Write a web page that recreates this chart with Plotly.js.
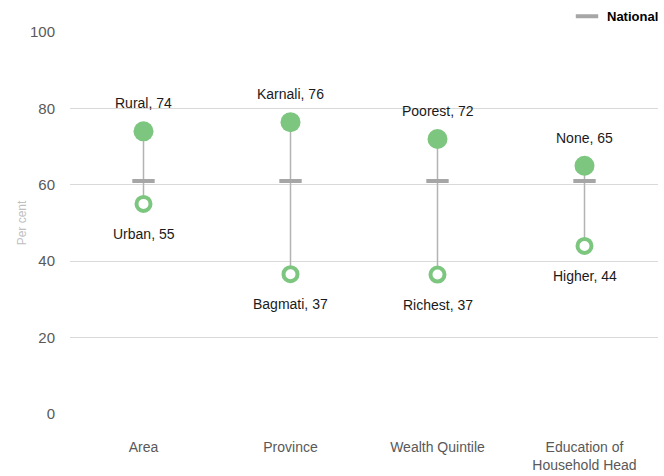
<!DOCTYPE html>
<html><head><meta charset="utf-8">
<script src="https://cdn.plot.ly/plotly-3.0.1.min.js"></script>
<style>html,body{margin:0;padding:0;background:#fff}</style>
</head><body><div id="chart" style="width:664px;height:476px"></div>
<script>
const categories = ["Area", "Province", "Wealth Quintile", "Education of<br>Household Head"];
const highNames = ["Rural", "Karnali", "Poorest", "None"];
const highValues = [74, 76.4, 72, 65];
const lowNames = ["Urban", "Bagmati", "Richest", "Higher"];
const lowValues = [55, 36.6, 36.5, 44];
const nationalValues = [61, 61, 61, 61];

const green = "#7dc67f";
const lineX = [], lineY = [];
categories.forEach((c, i) => { lineX.push(c, c, null); lineY.push(highValues[i], lowValues[i], null); });

const traces = [
  {x: lineX, y: lineY, mode: "lines", line: {color: "#b3b3b3", width: 1.5}, showlegend: false, hoverinfo: "skip"},
  {x: categories, y: nationalValues, mode: "markers", name: "National",
   marker: {symbol: "line-ew", size: 16, line: {color: "#a6a6a6", width: 4}}},
  {x: categories, y: highValues, mode: "markers", showlegend: false,
   marker: {symbol: "circle", size: 20, color: green}},
  {x: categories, y: lowValues, mode: "markers", showlegend: false,
   marker: {symbol: "circle", size: 14, color: "#ffffff", line: {color: green, width: 4}}}
];

const annotations = [];
categories.forEach((c, i) => {
  annotations.push({x: c, y: highValues[i], text: highNames[i] + ", " + Math.round(highValues[i]),
    showarrow: false, yshift: 28, font: {size: 14, color: "#1a1a1a"}});
  annotations.push({x: c, y: lowValues[i], text: lowNames[i] + ", " + Math.round(lowValues[i]),
    showarrow: false, yshift: -30, font: {size: 14, color: "#1a1a1a"}});
});

const layout = {
  width: 664, height: 476,
  margin: {l: 70, r: 6, t: 32, b: 62, autoexpand: false},
  paper_bgcolor: "#fff", plot_bgcolor: "#fff",
  font: {family: "Liberation Sans, Arial, sans-serif", size: 14, color: "#595959"},
  xaxis: {type: "category", range: [-0.5, 3.5], automargin: false, showgrid: false, zeroline: false, showline: false, ticks: "",
    ticklabelstandoff: 23, tickfont: {size: 14, color: "#595959"}},
  yaxis: {range: [0, 100], dtick: 20, automargin: false, gridcolor: "#d9d9d9", gridwidth: 1, zeroline: false,
    showline: false, ticks: "", ticklabelstandoff: 14, tickfont: {size: 15, color: "#595959"},
    title: {text: "Per cent", font: {size: 12, color: "#bfbfbf"}, standoff: 0}},
  showlegend: true,
  legend: {x: 1, xanchor: "right", xref: "container", y: 0.966, yanchor: "middle", yref: "container", orientation: "h",
    font: {size: 13, color: "#000", weight: "bold"}, itemwidth: 30, bgcolor: "rgba(0,0,0,0)"},
  annotations: annotations
};

Plotly.newPlot("chart", traces, layout, {displayModeBar: false, staticPlot: true});
</script></body></html>
